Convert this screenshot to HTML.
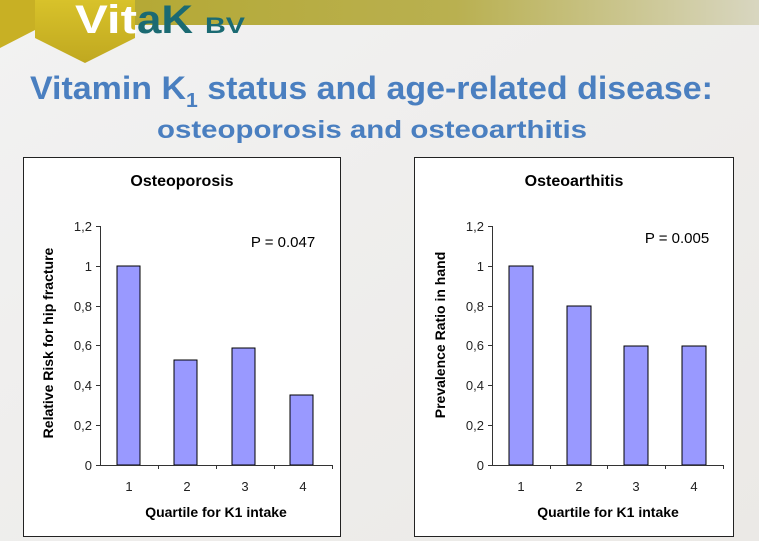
<!DOCTYPE html>
<html><head><meta charset="utf-8"><style>
html,body{margin:0;padding:0;background:#f4f4f4;}
svg{display:block;}
</style></head><body>
<svg width="759" height="541" viewBox="0 0 759 541" xmlns="http://www.w3.org/2000/svg" font-family="Liberation Sans, Arial, sans-serif">
<defs>
<linearGradient id="band" x1="0" x2="1" y1="0" y2="0">
<stop offset="0" stop-color="#b3a62a"/><stop offset="0.6" stop-color="#b9b050"/><stop offset="1" stop-color="#d8d6c0"/>
</linearGradient>
<linearGradient id="hex" x1="0" x2="0" y1="0" y2="1">
<stop offset="0" stop-color="#d8c22a"/><stop offset="1" stop-color="#c0a820"/>
</linearGradient>
<linearGradient id="bg" x1="0" x2="1" y1="0" y2="1">
<stop offset="0" stop-color="#f2f2f2"/><stop offset="1" stop-color="#ebe9e6"/>
</linearGradient>
</defs>
<rect width="759" height="541" fill="url(#bg)"/>
<rect x="0" y="0" width="759" height="25" fill="url(#band)"/>
<polygon points="0,0 35,0 35,30 0,48" fill="#c8b024"/>
<polygon points="35,0 135,0 135,38 85,63 35,38" fill="url(#hex)"/>
<text x="75" y="33" font-size="40" font-weight="bold" fill="#ffffff" textLength="62" lengthAdjust="spacingAndGlyphs">Vit</text>
<text x="137" y="33" font-size="40" font-weight="bold" fill="#1b6a72" textLength="56" lengthAdjust="spacingAndGlyphs">aK</text>
<text x="205" y="33" font-size="22" font-weight="bold" fill="#1b6a72" textLength="40" lengthAdjust="spacingAndGlyphs">BV</text>

<text x="30" y="99" font-size="32" font-weight="bold" fill="#4a7fc0" textLength="683" lengthAdjust="spacingAndGlyphs">Vitamin K<tspan font-size="20" dy="8">1</tspan><tspan dy="-8"> status and age-related disease:</tspan></text>
<text x="157" y="138" font-size="25" font-weight="bold" fill="#4a7fc0" textLength="430" lengthAdjust="spacingAndGlyphs">osteoporosis and osteoarthitis</text>

<!-- Left chart -->
<rect x="23.5" y="157.5" width="317" height="379" fill="#ffffff" stroke="#222" stroke-width="1"/>
<text x="182" y="186" font-size="16" font-weight="bold" text-anchor="middle">Osteoporosis</text>
<text x="283" y="247" font-size="15" text-anchor="middle">P = 0.047</text>
<g stroke="#000" stroke-width="1" fill="#9999ff">
<rect x="117" y="266" width="23" height="199"/>
<rect x="174" y="360" width="23" height="105"/>
<rect x="232" y="348" width="23" height="117"/>
<rect x="290" y="395" width="23" height="70"/>
</g>
<g stroke="#333" stroke-width="1">
<line x1="100.5" y1="226" x2="100.5" y2="465"/>
<line x1="100" y1="465.5" x2="332" y2="465.5"/>
<line x1="96" y1="226.5" x2="100" y2="226.5"/><line x1="96" y1="266.5" x2="100" y2="266.5"/><line x1="96" y1="306.5" x2="100" y2="306.5"/><line x1="96" y1="345.5" x2="100" y2="345.5"/><line x1="96" y1="385.5" x2="100" y2="385.5"/><line x1="96" y1="425.5" x2="100" y2="425.5"/><line x1="96" y1="465.5" x2="100" y2="465.5"/>
<line x1="158.5" y1="465" x2="158.5" y2="469"/><line x1="216.5" y1="465" x2="216.5" y2="469"/><line x1="274.5" y1="465" x2="274.5" y2="469"/><line x1="332.5" y1="465" x2="332.5" y2="469"/>
</g>
<g font-size="13" fill="#222" text-anchor="end">
<text x="92" y="231">1,2</text><text x="92" y="271">1</text><text x="92" y="311">0,8</text><text x="92" y="350">0,6</text><text x="92" y="390">0,4</text><text x="92" y="430">0,2</text><text x="92" y="470">0</text>
</g>
<g font-size="13" fill="#222" text-anchor="middle">
<text x="129" y="491">1</text><text x="187" y="491">2</text><text x="245" y="491">3</text><text x="303" y="491">4</text>
</g>
<text x="216" y="517" font-size="14" font-weight="bold" text-anchor="middle">Quartile for K1 intake</text>
<text transform="translate(53,343) rotate(-90)" font-size="14" font-weight="bold" text-anchor="middle">Relative Risk for hip fracture</text>

<!-- Right chart -->
<rect x="414.5" y="157.5" width="319" height="379" fill="#ffffff" stroke="#222" stroke-width="1"/>
<text x="574" y="186" font-size="16" font-weight="bold" text-anchor="middle">Osteoarthitis</text>
<text x="677" y="243" font-size="15" text-anchor="middle">P = 0.005</text>
<g stroke="#000" stroke-width="1" fill="#9999ff">
<rect x="509" y="266" width="24" height="199"/>
<rect x="567" y="306" width="24" height="159"/>
<rect x="624" y="346" width="24" height="119"/>
<rect x="682" y="346" width="24" height="119"/>
</g>
<g stroke="#333" stroke-width="1">
<line x1="492.5" y1="226" x2="492.5" y2="465"/>
<line x1="492" y1="465.5" x2="723" y2="465.5"/>
<line x1="488" y1="226.5" x2="492" y2="226.5"/><line x1="488" y1="266.5" x2="492" y2="266.5"/><line x1="488" y1="306.5" x2="492" y2="306.5"/><line x1="488" y1="345.5" x2="492" y2="345.5"/><line x1="488" y1="385.5" x2="492" y2="385.5"/><line x1="488" y1="425.5" x2="492" y2="425.5"/><line x1="488" y1="465.5" x2="492" y2="465.5"/>
<line x1="550.5" y1="465" x2="550.5" y2="469"/><line x1="607.5" y1="465" x2="607.5" y2="469"/><line x1="665.5" y1="465" x2="665.5" y2="469"/><line x1="723.5" y1="465" x2="723.5" y2="469"/>
</g>
<g font-size="13" fill="#222" text-anchor="end">
<text x="484" y="231">1,2</text><text x="484" y="271">1</text><text x="484" y="311">0,8</text><text x="484" y="350">0,6</text><text x="484" y="390">0,4</text><text x="484" y="430">0,2</text><text x="484" y="470">0</text>
</g>
<g font-size="13" fill="#222" text-anchor="middle">
<text x="521" y="491">1</text><text x="579" y="491">2</text><text x="636" y="491">3</text><text x="694" y="491">4</text>
</g>
<text x="608" y="517" font-size="14" font-weight="bold" text-anchor="middle">Quartile for K1 intake</text>
<text transform="translate(445,335) rotate(-90)" font-size="14" font-weight="bold" text-anchor="middle">Prevalence Ratio in hand</text>
</svg>
</body></html>
